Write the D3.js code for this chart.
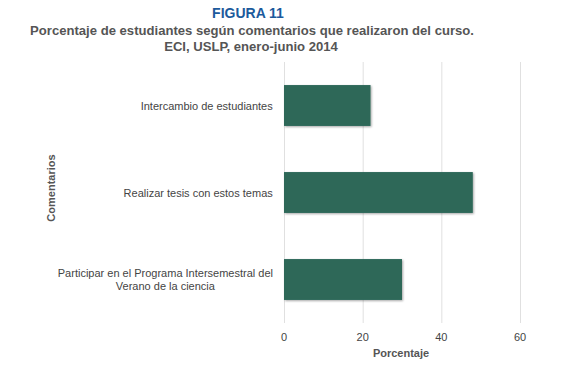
<!DOCTYPE html>
<html>
<head>
<meta charset="utf-8">
<script src="https://cdn.jsdelivr.net/npm/d3@7"></script>
<style>
	body { margin: 0; background: #fff; }
	text { font-family: Arial, "Liberation Sans", sans-serif; }
	.grid line { stroke: #e0e0e0; }
	.grid path { display: none; }
</style>
</head>
<body>
<div id="graphic"></div>
<script>
// categories and values
let categories = [
	'Intercambio de estudiantes',
	'Realizar tesis con estos temas',
	'Participar en el Programa Intersemestral del Verano de la ciencia'
];
let categoryLines = [
	['Intercambio de estudiantes'],
	['Realizar tesis con estos temas'],
	['Participar en el Programa Intersemestral del', 'Verano de la ciencia']
];
let values = [22, 48, 30];
let xTicks = [0, 20, 40, 60];

let width = 577, height = 372;
let margin = { top: 62, right: 57, bottom: 49, left: 284 };

let svg = d3.select('#graphic')
	.append('svg')
	.attr('width', width)
	.attr('height', height);

// soft shadow under bars
let defs = svg.append('defs');
let filter = defs.append('filter').attr('id', 'shadow')
	.attr('x', '-5%').attr('y', '-10%').attr('width', '115%').attr('height', '130%');
filter.append('feDropShadow')
	.attr('dx', 1).attr('dy', 1).attr('stdDeviation', 1.2)
	.attr('flood-color', '#000').attr('flood-opacity', 0.35);

// titles
svg.append('text')
	.attr('x', 248).attr('y', 18)
	.attr('text-anchor', 'middle')
	.style('font-size', '14px').style('font-weight', 'bold')
	.attr('fill', '#1c5a9c')
	.text('FIGURA 11');

svg.append('text')
	.attr('x', 252).attr('y', 35)
	.attr('text-anchor', 'middle')
	.style('font-size', '13.1px').style('font-weight', 'bold')
	.attr('fill', '#555')
	.text('Porcentaje de estudiantes según comentarios que realizaron del curso.');

svg.append('text')
	.attr('x', 251).attr('y', 51)
	.attr('text-anchor', 'middle')
	.style('font-size', '13.1px').style('font-weight', 'bold')
	.attr('fill', '#555')
	.text('ECI, USLP, enero-junio 2014');

let x = d3.scaleLinear()
	.domain([0, 60])
	.range([margin.left, 520]);

let y = d3.scaleBand()
	.domain(categories)
	.range([margin.top, height - margin.bottom])
	.paddingInner(0.53)
	.paddingOuter(0.265);

// gridlines
svg.append('g')
	.attr('class', 'grid')
	.attr('transform', 'translate(0,' + margin.top + ')')
	.call(d3.axisBottom(x).tickValues(xTicks).tickSize(height - margin.bottom - margin.top).tickFormat(''));

// x tick labels
svg.append('g')
	.selectAll('text')
	.data(xTicks)
	.join('text')
	.attr('x', (d) => x(d))
	.attr('y', 341)
	.attr('text-anchor', 'middle')
	.style('font-size', '11px')
	.attr('fill', '#444')
	.text((d) => d);

// bars
svg.append('g')
	.selectAll('rect')
	.data(values)
	.join('rect')
	.attr('x', x(0))
	.attr('y', (d, i) => y(categories[i]))
	.attr('width', (d) => x(d) - x(0))
	.attr('height', y.bandwidth())
	.attr('fill', '#2d6859')
	.attr('filter', 'url(#shadow)');

// category labels
let labels = svg.append('g')
	.selectAll('text')
	.data(categories)
	.join('text')
	.attr('text-anchor', 'middle')
	.style('font-size', '11px')
	.attr('fill', '#444');

labels.each(function (d, i) {
	let lines = categoryLines[i];
	let cy = y(d) + y.bandwidth() / 2;
	let t = d3.select(this);
	lines.forEach((line, j) => {
		t.append('tspan')
			.attr('x', 0)
			.attr('y', cy + 4 + (j - (lines.length - 1) / 2) * 13)
			.text(line);
	});
	// right-align the block while centring lines within it
	let w = this.getBBox().width;
	t.selectAll('tspan').attr('x', 273 - w / 2);
});

// axis titles
svg.append('text')
	.attr('x', x(30) - 1).attr('y', 357)
	.attr('text-anchor', 'middle')
	.style('font-size', '11px').style('font-weight', 'bold')
	.attr('fill', '#555')
	.text('Porcentaje');

svg.append('text')
	.attr('transform', 'translate(55,188) rotate(-90)')
	.attr('text-anchor', 'middle')
	.style('font-size', '11px').style('font-weight', 'bold')
	.attr('fill', '#555')
	.text('Comentarios');
</script>
</body>
</html>
